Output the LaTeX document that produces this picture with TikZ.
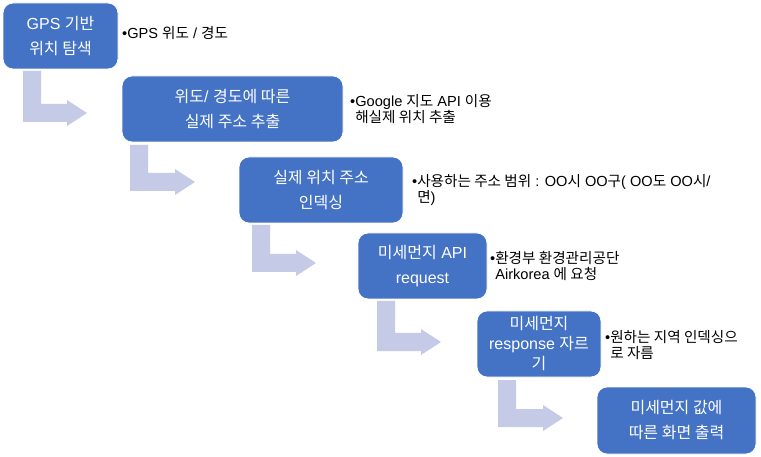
\documentclass[tikz,border=0pt]{standalone}
\usepackage{fontspec}
\setmainfont{Liberation Sans}
\newfontfamily\krfont{Noto Sans CJK KR}
\newcommand\ko[1]{{\krfont #1}}

\definecolor{boxblue}{RGB}{68,114,196}
\definecolor{arrowgray}{RGB}{197,203,230}

\tikzset{
  stepbox/.style={draw=white, line width=0.8pt, fill=boxblue, rounded corners=10pt,
    text=white, align=center, inner sep=0pt, font=\fontsize{16}{25}\selectfont},
  note/.style={anchor=west, align=left, inner sep=0pt, font=\fontsize{14.6}{16}\selectfont},
}

\begin{document}
\begin{tikzpicture}[x=1pt,y=-1pt]
\useasboundingbox (0,0) rectangle (761,457);

% bent arrows between the steps
\foreach \l/\t/\b/\p in {23/71/122/87, 130/145/191/195, 252/225/272/316, 377/301/351/441, 498/380/427/563}
  \fill[arrowgray] (\l,\t) -- (\l+18,\t) -- (\l+18,\b-18) -- (\p-20,\b-18) -- (\p-20,\b-22)
    -- (\p,\b-9) -- (\p-20,\b+4) -- (\p-20,\b) -- (\l,\b) -- cycle;

% steps
\node[stepbox, minimum width=115pt, minimum height=66pt] (gps) at (60.5,36)
  {GPS \ko{기반}\\\ko{위치 탐색}};
\node[stepbox, minimum width=221pt, minimum height=66pt] (addr) at (232.5,109)
  {\ko{위도}/ \ko{경도에 따른}\\\ko{실제 주소 추출}};
\node[stepbox, minimum width=164pt, minimum height=66pt] (index) at (321,190)
  {\ko{실제 위치 주소}\\\ko{인덱싱}};
\node[stepbox, minimum width=129pt, minimum height=66pt] (req) at (422.5,266)
  {\ko{미세먼지} API\\request};
\node[stepbox, minimum width=124pt, minimum height=66pt, font=\fontsize{16}{20}\selectfont] (cut) at (539,344)
  {\ko{미세먼지}\\response \ko{자르}\\\ko{기}};
\node[stepbox, minimum width=159pt, minimum height=67pt] (show) at (676.5,420.5)
  {\ko{미세먼지 값에}\\\ko{따른 화면 출력}};

% notes
\node[note] (n1) at (122,33) {•GPS \ko{위도} / \ko{경도}};
\node[note] (n2) at (350,109.5) {•Google \ko{지도} API \ko{이용}\\\hphantom{•}\ko{해실제 위치 추출}};
\node[note] (n3) at (412,190) {•\ko{사용하는 주소 범위} : OO\ko{시} OO\ko{구}( OO\ko{도} OO\ko{시}/\\\hphantom{•}\ko{면})};
\node[note] (n4) at (490,266.5) {•\ko{환경부 환경관리공단}\\\hphantom{•}Airkorea \ko{에 요청}};
\node[note] (n5) at (605,345) {•\ko{원하는 지역 인덱싱으}\\\hphantom{•}\ko{로 자름}};
\end{tikzpicture}
\end{document}
